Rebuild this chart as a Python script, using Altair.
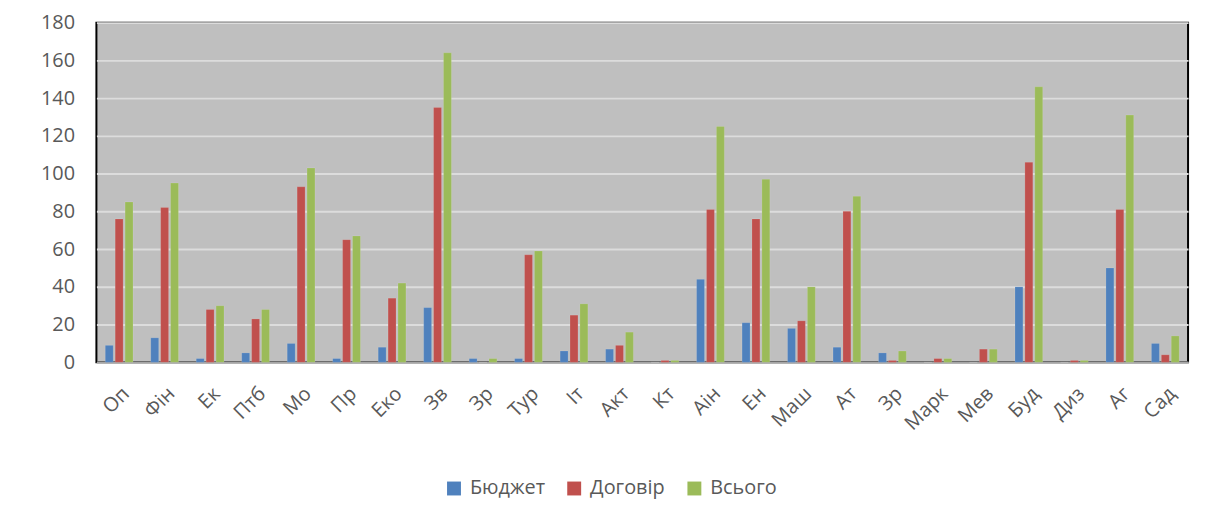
import altair as alt
import pandas as pd

categories = ["Оп", "Фін", "Ек", "Птб", "Мо", "Пр", "Еко", "Зв", "Зр", "Тур", "Іт", "Акт",
              "Кт", "Аін", "Ен", "Маш", "Ат", "Зр", "Марк", "Мев", "Буд", "Диз", "Аг", "Сад"]
budget = [9, 13, 2, 5, 10, 2, 8, 29, 2, 2, 6, 7, 0, 44, 21, 18, 8, 5, 0, 0, 40, 0, 50, 10]
contract = [76, 82, 28, 23, 93, 65, 34, 135, 0, 57, 25, 9, 1, 81, 76, 22, 80, 1, 2, 7, 106, 1, 81, 4]
total = [85, 95, 30, 28, 103, 67, 42, 164, 2, 59, 31, 16, 1, 125, 97, 40, 88, 6, 2, 7, 146, 1, 131, 14]
series_names = ["Бюджет", "Договір", "Всього"]
series_colors = ["#4F81BD", "#C0504D", "#9BBB59"]
y_ticks = [0, 20, 40, 60, 80, 100, 120, 140, 160, 180]

rows = []
for i, c in enumerate(categories):
    for s, vals in zip(series_names, [budget, contract, total]):
        rows.append({"idx": i, "cat": c, "series": s, "value": vals[i]})
df = pd.DataFrame(rows)

label_arr = "[" + ",".join("'" + c + "'" for c in categories) + "]"
FONT = "Open Sans"

chart = alt.Chart(df).mark_bar(stroke="white", strokeOpacity=0.25, strokeWidth=0.5).encode(
    x=alt.X("idx:O", title=None,
            scale=alt.Scale(paddingInner=0.39, paddingOuter=0.195),
            axis=alt.Axis(labelExpr=label_arr + "[datum.value]", labelAngle=-45,
                          labelAlign="right", labelBaseline="top", labelPadding=21,
                          labelFont=FONT, labelFontSize=20, labelColor="#595959",
                          ticks=False, domainColor="#A6A6A6", domainWidth=2, grid=False)),
    xOffset=alt.XOffset("series:N", sort=series_names,
                        scale=alt.Scale(paddingInner=0.2, paddingOuter=0)),
    y=alt.Y("value:Q", title=None,
            scale=alt.Scale(domain=[0, 180], nice=False),
            axis=alt.Axis(values=y_ticks, labelFont=FONT, labelFontSize=20,
                          labelColor="#595959", labelPadding=22, ticks=False,
                          domain=False, gridColor="#DCDCDC", gridWidth=2)),
    color=alt.Color("series:N", sort=series_names,
                    scale=alt.Scale(domain=series_names, range=series_colors),
                    legend=alt.Legend(title=None, orient="none", direction="horizontal",
                                      legendX=350, legendY=459, symbolType="square",
                                      symbolSize=196, symbolStrokeWidth=0,
                                      labelFont=FONT, labelFontSize=20, labelColor="#595959",
                                      labelOffset=6, columnPadding=19)),
).properties(
    width=1099, height=342,
    autosize=alt.AutoSizeParams(type="none"),
    padding={"left": 89, "top": 13, "right": 9, "bottom": 160},
    background="white",
).configure_view(
    fill="#BFBFBF", stroke="#000000", strokeWidth=2
)

chart.save("out.html", embed_options={"renderer": "svg", "actions": False})
